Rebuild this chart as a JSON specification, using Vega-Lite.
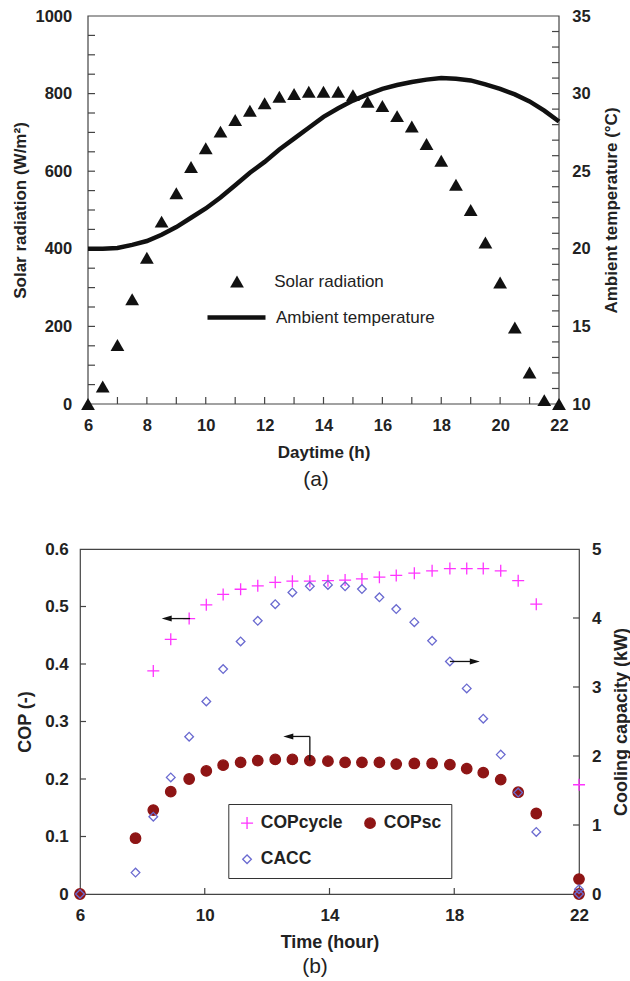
{
  "$schema": "https://vega.github.io/schema/vega-lite/v6.json",
  "padding": {"left": 11, "top": 8, "right": 5, "bottom": 5},
  "spacing": 49,
  "config": {
    "font": "Liberation Sans",
    "view": {"stroke": null},
    "axis": {
      "grid": false,
      "domain": false,
      "ticks": false,
      "tickSize": 0,
      "labelColor": "#222",
      "titleColor": "#222",
      "labelFontWeight": "bold",
      "titleFontWeight": "bold",
      "labelFlush": false,
      "labelOverlap": false
    }
  },
  "datasets": {
    "frameA": [
      {"t": 6, "t2": 22, "rad": 0, "rad2": 1000}
    ],
    "ticksAx": [
      {"t": 7, "rad": 0}, {"t": 8, "rad": 0}, {"t": 9, "rad": 0}, {"t": 10, "rad": 0}, {"t": 11, "rad": 0},
      {"t": 12, "rad": 0}, {"t": 13, "rad": 0}, {"t": 14, "rad": 0}, {"t": 15, "rad": 0}, {"t": 16, "rad": 0},
      {"t": 17, "rad": 0}, {"t": 18, "rad": 0}, {"t": 19, "rad": 0}, {"t": 20, "rad": 0}, {"t": 21, "rad": 0}
    ],
    "ticksAy": [
      {"t": 6, "rad": 50}, {"t": 6, "rad": 100}, {"t": 6, "rad": 150}, {"t": 6, "rad": 200}, {"t": 6, "rad": 250},
      {"t": 6, "rad": 300}, {"t": 6, "rad": 350}, {"t": 6, "rad": 400}, {"t": 6, "rad": 450}, {"t": 6, "rad": 500},
      {"t": 6, "rad": 550}, {"t": 6, "rad": 600}, {"t": 6, "rad": 650}, {"t": 6, "rad": 700}, {"t": 6, "rad": 750},
      {"t": 6, "rad": 800}, {"t": 6, "rad": 850}, {"t": 6, "rad": 900}, {"t": 6, "rad": 950}
    ],
    "ticksAr": [
      {"t": 22, "temp": 11}, {"t": 22, "temp": 12}, {"t": 22, "temp": 13}, {"t": 22, "temp": 14}, {"t": 22, "temp": 15},
      {"t": 22, "temp": 16}, {"t": 22, "temp": 17}, {"t": 22, "temp": 18}, {"t": 22, "temp": 19}, {"t": 22, "temp": 20},
      {"t": 22, "temp": 21}, {"t": 22, "temp": 22}, {"t": 22, "temp": 23}, {"t": 22, "temp": 24}, {"t": 22, "temp": 25},
      {"t": 22, "temp": 26}, {"t": 22, "temp": 27}, {"t": 22, "temp": 28}, {"t": 22, "temp": 29}, {"t": 22, "temp": 30},
      {"t": 22, "temp": 31}, {"t": 22, "temp": 32}, {"t": 22, "temp": 33}, {"t": 22, "temp": 34}
    ],
    "ticksBx": [
      {"t": 10, "cop": 0}, {"t": 14, "cop": 0}, {"t": 18, "cop": 0}
    ],
    "ticksBy": [
      {"t": 6, "cop": 0.1}, {"t": 6, "cop": 0.2}, {"t": 6, "cop": 0.3}, {"t": 6, "cop": 0.4}, {"t": 6, "cop": 0.5}
    ],
    "ticksBr": [
      {"t": 22, "cacc": 1}, {"t": 22, "cacc": 2}, {"t": 22, "cacc": 3}, {"t": 22, "cacc": 4}
    ],
    "rad": [
      {"t": 6, "rad": 0, "s": "Solar radiation"},
      {"t": 6.5, "rad": 45, "s": "Solar radiation"},
      {"t": 7, "rad": 152, "s": "Solar radiation"},
      {"t": 7.5, "rad": 270, "s": "Solar radiation"},
      {"t": 8, "rad": 377, "s": "Solar radiation"},
      {"t": 8.5, "rad": 470, "s": "Solar radiation"},
      {"t": 9, "rad": 543, "s": "Solar radiation"},
      {"t": 9.5, "rad": 611, "s": "Solar radiation"},
      {"t": 10, "rad": 659, "s": "Solar radiation"},
      {"t": 10.5, "rad": 702, "s": "Solar radiation"},
      {"t": 11, "rad": 732, "s": "Solar radiation"},
      {"t": 11.5, "rad": 756, "s": "Solar radiation"},
      {"t": 12, "rad": 775, "s": "Solar radiation"},
      {"t": 12.5, "rad": 792, "s": "Solar radiation"},
      {"t": 13, "rad": 799, "s": "Solar radiation"},
      {"t": 13.5, "rad": 805, "s": "Solar radiation"},
      {"t": 14, "rad": 805, "s": "Solar radiation"},
      {"t": 14.5, "rad": 805, "s": "Solar radiation"},
      {"t": 15, "rad": 796, "s": "Solar radiation"},
      {"t": 15.5, "rad": 779, "s": "Solar radiation"},
      {"t": 16, "rad": 768, "s": "Solar radiation"},
      {"t": 16.5, "rad": 742, "s": "Solar radiation"},
      {"t": 17, "rad": 715, "s": "Solar radiation"},
      {"t": 17.5, "rad": 670, "s": "Solar radiation"},
      {"t": 18, "rad": 627, "s": "Solar radiation"},
      {"t": 18.5, "rad": 565, "s": "Solar radiation"},
      {"t": 19, "rad": 500, "s": "Solar radiation"},
      {"t": 19.5, "rad": 416, "s": "Solar radiation"},
      {"t": 20, "rad": 313, "s": "Solar radiation"},
      {"t": 20.5, "rad": 197, "s": "Solar radiation"},
      {"t": 21, "rad": 81, "s": "Solar radiation"},
      {"t": 21.5, "rad": 10, "s": "Solar radiation"},
      {"t": 22, "rad": 0, "s": "Solar radiation"}
    ],
    "temp": [
      {"t": 6, "temp": 20.0, "s2": "Ambient temperature"},
      {"t": 6.5, "temp": 20.0, "s2": "Ambient temperature"},
      {"t": 7, "temp": 20.05, "s2": "Ambient temperature"},
      {"t": 7.5, "temp": 20.25, "s2": "Ambient temperature"},
      {"t": 8, "temp": 20.5, "s2": "Ambient temperature"},
      {"t": 8.5, "temp": 20.9, "s2": "Ambient temperature"},
      {"t": 9, "temp": 21.4, "s2": "Ambient temperature"},
      {"t": 9.5, "temp": 22.0, "s2": "Ambient temperature"},
      {"t": 10, "temp": 22.6, "s2": "Ambient temperature"},
      {"t": 10.5, "temp": 23.3, "s2": "Ambient temperature"},
      {"t": 11, "temp": 24.1, "s2": "Ambient temperature"},
      {"t": 11.5, "temp": 24.9, "s2": "Ambient temperature"},
      {"t": 12, "temp": 25.6, "s2": "Ambient temperature"},
      {"t": 12.5, "temp": 26.4, "s2": "Ambient temperature"},
      {"t": 13, "temp": 27.1, "s2": "Ambient temperature"},
      {"t": 13.5, "temp": 27.8, "s2": "Ambient temperature"},
      {"t": 14, "temp": 28.5, "s2": "Ambient temperature"},
      {"t": 14.5, "temp": 29.05, "s2": "Ambient temperature"},
      {"t": 15, "temp": 29.55, "s2": "Ambient temperature"},
      {"t": 15.5, "temp": 29.95, "s2": "Ambient temperature"},
      {"t": 16, "temp": 30.3, "s2": "Ambient temperature"},
      {"t": 16.5, "temp": 30.55, "s2": "Ambient temperature"},
      {"t": 17, "temp": 30.75, "s2": "Ambient temperature"},
      {"t": 17.5, "temp": 30.9, "s2": "Ambient temperature"},
      {"t": 18, "temp": 31.0, "s2": "Ambient temperature"},
      {"t": 18.5, "temp": 30.95, "s2": "Ambient temperature"},
      {"t": 19, "temp": 30.85, "s2": "Ambient temperature"},
      {"t": 19.5, "temp": 30.6, "s2": "Ambient temperature"},
      {"t": 20, "temp": 30.3, "s2": "Ambient temperature"},
      {"t": 20.5, "temp": 29.95, "s2": "Ambient temperature"},
      {"t": 21, "temp": 29.5, "s2": "Ambient temperature"},
      {"t": 21.5, "temp": 28.9, "s2": "Ambient temperature"},
      {"t": 22, "temp": 28.2, "s2": "Ambient temperature"}
    ],
    "cop": [
      {"t": 8.35, "cop": 0.388, "series": "COPcycle"},
      {"t": 8.91, "cop": 0.443, "series": "COPcycle"},
      {"t": 9.5, "cop": 0.479, "series": "COPcycle"},
      {"t": 10.05, "cop": 0.503, "series": "COPcycle"},
      {"t": 10.59, "cop": 0.521, "series": "COPcycle"},
      {"t": 11.15, "cop": 0.530, "series": "COPcycle"},
      {"t": 11.7, "cop": 0.536, "series": "COPcycle"},
      {"t": 12.26, "cop": 0.542, "series": "COPcycle"},
      {"t": 12.81, "cop": 0.544, "series": "COPcycle"},
      {"t": 13.37, "cop": 0.544, "series": "COPcycle"},
      {"t": 13.95, "cop": 0.545, "series": "COPcycle"},
      {"t": 14.5, "cop": 0.546, "series": "COPcycle"},
      {"t": 15.04, "cop": 0.548, "series": "COPcycle"},
      {"t": 15.6, "cop": 0.551, "series": "COPcycle"},
      {"t": 16.14, "cop": 0.554, "series": "COPcycle"},
      {"t": 16.72, "cop": 0.558, "series": "COPcycle"},
      {"t": 17.29, "cop": 0.562, "series": "COPcycle"},
      {"t": 17.86, "cop": 0.566, "series": "COPcycle"},
      {"t": 18.4, "cop": 0.566, "series": "COPcycle"},
      {"t": 18.93, "cop": 0.566, "series": "COPcycle"},
      {"t": 19.49, "cop": 0.562, "series": "COPcycle"},
      {"t": 20.05, "cop": 0.545, "series": "COPcycle"},
      {"t": 20.63, "cop": 0.504, "series": "COPcycle"},
      {"t": 22, "cop": 0.19, "series": "COPcycle"},
      {"t": 6, "cop": 0, "series": "COPsc"},
      {"t": 7.78, "cop": 0.097, "series": "COPsc"},
      {"t": 8.35, "cop": 0.146, "series": "COPsc"},
      {"t": 8.91, "cop": 0.178, "series": "COPsc"},
      {"t": 9.5, "cop": 0.200, "series": "COPsc"},
      {"t": 10.05, "cop": 0.214, "series": "COPsc"},
      {"t": 10.59, "cop": 0.224, "series": "COPsc"},
      {"t": 11.15, "cop": 0.229, "series": "COPsc"},
      {"t": 11.7, "cop": 0.232, "series": "COPsc"},
      {"t": 12.26, "cop": 0.234, "series": "COPsc"},
      {"t": 12.81, "cop": 0.234, "series": "COPsc"},
      {"t": 13.37, "cop": 0.232, "series": "COPsc"},
      {"t": 13.95, "cop": 0.231, "series": "COPsc"},
      {"t": 14.5, "cop": 0.229, "series": "COPsc"},
      {"t": 15.04, "cop": 0.229, "series": "COPsc"},
      {"t": 15.6, "cop": 0.229, "series": "COPsc"},
      {"t": 16.14, "cop": 0.226, "series": "COPsc"},
      {"t": 16.72, "cop": 0.227, "series": "COPsc"},
      {"t": 17.29, "cop": 0.227, "series": "COPsc"},
      {"t": 17.86, "cop": 0.225, "series": "COPsc"},
      {"t": 18.4, "cop": 0.218, "series": "COPsc"},
      {"t": 18.93, "cop": 0.211, "series": "COPsc"},
      {"t": 19.49, "cop": 0.199, "series": "COPsc"},
      {"t": 20.05, "cop": 0.177, "series": "COPsc"},
      {"t": 20.63, "cop": 0.140, "series": "COPsc"},
      {"t": 22, "cop": 0.026, "series": "COPsc"},
      {"t": 22, "cop": 0, "series": "COPsc"}
    ],
    "cacc": [
      {"t": 6, "cacc": 0, "series": "CACC"},
      {"t": 7.78, "cacc": 0.31, "series": "CACC"},
      {"t": 8.35, "cacc": 1.12, "series": "CACC"},
      {"t": 8.91, "cacc": 1.69, "series": "CACC"},
      {"t": 9.5, "cacc": 2.28, "series": "CACC"},
      {"t": 10.05, "cacc": 2.79, "series": "CACC"},
      {"t": 10.59, "cacc": 3.26, "series": "CACC"},
      {"t": 11.15, "cacc": 3.66, "series": "CACC"},
      {"t": 11.7, "cacc": 3.96, "series": "CACC"},
      {"t": 12.26, "cacc": 4.20, "series": "CACC"},
      {"t": 12.81, "cacc": 4.37, "series": "CACC"},
      {"t": 13.37, "cacc": 4.46, "series": "CACC"},
      {"t": 13.95, "cacc": 4.48, "series": "CACC"},
      {"t": 14.5, "cacc": 4.46, "series": "CACC"},
      {"t": 15.04, "cacc": 4.42, "series": "CACC"},
      {"t": 15.6, "cacc": 4.30, "series": "CACC"},
      {"t": 16.14, "cacc": 4.13, "series": "CACC"},
      {"t": 16.72, "cacc": 3.94, "series": "CACC"},
      {"t": 17.29, "cacc": 3.67, "series": "CACC"},
      {"t": 17.86, "cacc": 3.37, "series": "CACC"},
      {"t": 18.4, "cacc": 2.98, "series": "CACC"},
      {"t": 18.93, "cacc": 2.54, "series": "CACC"},
      {"t": 19.49, "cacc": 2.02, "series": "CACC"},
      {"t": 20.05, "cacc": 1.47, "series": "CACC"},
      {"t": 20.63, "cacc": 0.90, "series": "CACC"},
      {"t": 22, "cacc": 0.07, "series": "CACC"},
      {"t": 22, "cacc": 0, "series": "CACC"}
    ],
    "arrowsCop": [
      {"t": 9.53, "t2": 8.78, "cop": 0.479, "cop2": 0.479},
      {"t": 13.37, "t2": 13.37, "cop": 0.232, "cop2": 0.274},
      {"t": 13.37, "t2": 12.68, "cop": 0.274, "cop2": 0.274}
    ],
    "headsCop": [
      {"t": 8.78, "cop": 0.479},
      {"t": 12.68, "cop": 0.274}
    ],
    "arrowsCacc": [
      {"t": 17.86, "t2": 18.66, "cacc": 3.37, "cacc2": 3.37}
    ],
    "headsCacc": [
      {"t": 18.66, "cacc": 3.37}
    ]
  },
  "vconcat": [
    {
      "width": 479,
      "height": 388,
      "view": {"stroke": null},
      "title": {"text": "(a)", "orient": "bottom", "anchor": "middle", "frame": "group", "dx": -3.5, "offset": 9, "fontSize": 21, "fontWeight": "normal", "color": "#222", "font": "Liberation Sans"},
      "layer": [
        {
          "layer": [
            {
              "data": {"name": "frameA"},
              "mark": {"type": "rect", "fill": null, "stroke": "#444", "strokeWidth": 1.2},
              "encoding": {
                "x": {"field": "t", "type": "quantitative", "title": "Daytime (h)"},
                "x2": {"field": "t2"},
                "y": {"field": "rad", "type": "quantitative", "title": "Solar radiation (W/m²)"},
                "y2": {"field": "rad2"}
              }
            },
            {
              "data": {"name": "ticksAx"},
              "mark": {"type": "tick", "orient": "vertical", "size": 7, "thickness": 1.2, "color": "#444", "opacity": 1, "yOffset": -3.5},
              "encoding": {
                "x": {"field": "t", "type": "quantitative", "title": "Daytime (h)"},
                "y": {"field": "rad", "type": "quantitative", "title": "Solar radiation (W/m²)"}
              }
            },
            {
              "data": {"name": "ticksAy"},
              "mark": {"type": "tick", "orient": "horizontal", "size": 7, "thickness": 1.2, "color": "#444", "opacity": 1, "xOffset": 3.5},
              "encoding": {
                "x": {"field": "t", "type": "quantitative", "title": "Daytime (h)"},
                "y": {"field": "rad", "type": "quantitative", "title": "Solar radiation (W/m²)"}
              }
            },
            {
              "data": {"name": "rad"},
              "mark": {"type": "point", "filled": true, "color": "#111", "size": 190, "opacity": 1},
              "encoding": {
                "x": {
                  "field": "t", "type": "quantitative", "title": "Daytime (h)",
                  "scale": {"domain": [6, 22], "range": [8, 479], "nice": false, "zero": false},
                  "axis": {
                    "orient": "bottom",
                    "values": [6, 8, 10, 12, 14, 16, 18, 20, 22],
                    "labelPadding": 13.4,
                    "labelFontSize": 16.5,
                    "titleFontSize": 17,
                    "titleX": 243.5, "titleY": 48, "titleAlign": "center", "titleBaseline": "middle"
                  }
                },
                "y": {
                  "field": "rad", "type": "quantitative", "title": "Solar radiation (W/m²)",
                  "scale": {"domain": [0, 1000], "nice": false},
                  "axis": {
                    "orient": "left", "offset": -8, "format": "d",
                    "values": [0, 200, 400, 600, 800, 1000],
                    "labelPadding": 16.3,
                    "labelFontSize": 16.5,
                    "titleFontSize": 17,
                    "titleAngle": -90, "titleX": -68, "titleY": 194, "titleAlign": "center", "titleBaseline": "middle"
                  }
                },
                "shape": {
                  "field": "s", "type": "nominal",
                  "scale": {"range": ["triangle-up"]},
                  "legend": {
                    "orient": "none", "legendX": 148.5, "legendY": 257, "title": null, "padding": 0,
                    "symbolSize": 190, "symbolFillColor": "#111", "symbolStrokeColor": "#111", "symbolStrokeWidth": 0,
                    "labelOffset": 28.7, "labelFontSize": 17, "labelFont": "Liberation Sans", "labelColor": "#222"
                  }
                }
              }
            }
          ]
        },
        {
          "layer": [
            {
              "data": {"name": "ticksAr"},
              "mark": {"type": "tick", "orient": "horizontal", "size": 7, "thickness": 1.2, "color": "#444", "opacity": 1, "xOffset": -3.5},
              "encoding": {
                "x": {"field": "t", "type": "quantitative", "title": "Daytime (h)"},
                "y": {"field": "temp", "type": "quantitative", "title": "Ambient temperature (°C)"}
              }
            },
            {
              "data": {"name": "temp"},
              "mark": {"type": "line", "strokeWidth": 4.5, "strokeCap": "butt", "color": "#111"},
              "encoding": {
                "x": {
                  "field": "t", "type": "quantitative", "title": "Daytime (h)",
                  "scale": {"domain": [6, 22], "range": [8, 479], "nice": false, "zero": false}
                },
                "y": {
                  "field": "temp", "type": "quantitative", "title": "Ambient temperature (°C)",
                  "scale": {"domain": [10, 35], "nice": false, "zero": false},
                  "axis": {
                    "orient": "right", "format": "d",
                    "values": [10, 15, 20, 25, 30, 35],
                    "labelPadding": 12.7,
                    "labelFontSize": 16.5,
                    "titleFontSize": 17,
                    "titleAngle": -90, "titleX": 52.7, "titleY": 194, "titleAlign": "center", "titleBaseline": "middle"
                  }
                },
                "stroke": {
                  "field": "s2", "type": "nominal",
                  "scale": {"range": ["#111"]},
                  "legend": {
                    "orient": "none", "legendX": 125, "legendY": 270, "title": null, "padding": 0,
                    "symbolSize": 3364, "symbolStrokeWidth": 4.5,
                    "labelOffset": 8, "labelFontSize": 17, "labelFont": "Liberation Sans", "labelColor": "#222"
                  }
                }
              }
            }
          ]
        }
      ],
      "resolve": {"scale": {"y": "independent"}}
    },
    {
      "width": 499,
      "height": 345,
      "view": {"stroke": "#444", "strokeWidth": 1.2},
      "title": {"text": "(b)", "orient": "bottom", "anchor": "middle", "frame": "group", "dx": -14.5, "offset": 5, "fontSize": 21, "fontWeight": "normal", "color": "#222", "font": "Liberation Sans"},
      "layer": [
        {
          "layer": [
            {
              "data": {"name": "ticksBx"},
              "mark": {"type": "tick", "orient": "vertical", "size": 6, "thickness": 1.2, "color": "#444", "opacity": 1, "yOffset": -3},
              "encoding": {
                "x": {"field": "t", "type": "quantitative", "title": "Time (hour)"},
                "y": {"field": "cop", "type": "quantitative", "title": "COP (-)"}
              }
            },
            {
              "data": {"name": "ticksBy"},
              "mark": {"type": "tick", "orient": "horizontal", "size": 6, "thickness": 1.2, "color": "#444", "opacity": 1, "xOffset": 3},
              "encoding": {
                "x": {"field": "t", "type": "quantitative", "title": "Time (hour)"},
                "y": {"field": "cop", "type": "quantitative", "title": "COP (-)"}
              }
            },
            {
              "data": {"name": "cop"},
              "mark": {"type": "point", "strokeWidth": 1.3, "opacity": 1},
              "encoding": {
                "x": {
                  "field": "t", "type": "quantitative", "title": "Time (hour)",
                  "scale": {"domain": [6, 22], "nice": false, "zero": false},
                  "axis": {
                    "values": [6, 10, 14, 18, 22],
                    "labelPadding": 13.4,
                    "labelFontSize": 17,
                    "titleFontSize": 18,
                    "titleX": 249.5, "titleY": 48.4, "titleAlign": "center", "titleBaseline": "middle"
                  }
                },
                "y": {
                  "field": "cop", "type": "quantitative", "title": "COP (-)",
                  "scale": {"domain": [0, 0.6], "nice": false},
                  "axis": {
                    "orient": "left",
                    "values": [0, 0.1, 0.2, 0.3, 0.4, 0.5, 0.6],
                    "labelExpr": "datum.value === 0 ? '0' : format(datum.value, '.1f')",
                    "labelPadding": 11.7,
                    "labelFontSize": 17,
                    "titleFontSize": 18,
                    "titleAngle": -90, "titleX": -55, "titleY": 172.5, "titleAlign": "center", "titleBaseline": "middle"
                  }
                },
                "shape": {"field": "series", "type": "nominal", "scale": {"domain": ["COPcycle", "COPsc", "CACC"], "range": ["M-1,0L1,0M0,-1L0,1", "circle", "diamond"]},
                  "legend": {"orient": "none", "direction": "horizontal", "legendX": 148.3, "legendY": 255, "columns": 2, "title": null, "padding": 10, "strokeColor": "#333", "rowPadding": 17.5, "columnPadding": 18, "labelOffset": 5, "labelFontSize": 17.5, "labelFontWeight": "bold", "labelColor": "#222", "symbolStrokeWidth": 1.3, "labelExpr": "datum.label === 'COPsc' ? datum.label + '\u00a0\u00a0\u00a0\u00a0\u00a0' : datum.label"}},
                "fill": {"field": "series", "type": "nominal", "scale": {"domain": ["COPcycle", "COPsc", "CACC"], "range": ["transparent", "#8E1515", "transparent"]},
                  "legend": {"orient": "none", "direction": "horizontal", "legendX": 148.3, "legendY": 255, "columns": 2, "title": null, "padding": 10, "strokeColor": "#333", "rowPadding": 17.5, "columnPadding": 18, "labelOffset": 5, "labelFontSize": 17.5, "labelFontWeight": "bold", "labelColor": "#222", "symbolStrokeWidth": 1.3, "labelExpr": "datum.label === 'COPsc' ? datum.label + '\u00a0\u00a0\u00a0\u00a0\u00a0' : datum.label"}},
                "stroke": {"field": "series", "type": "nominal", "scale": {"domain": ["COPcycle", "COPsc", "CACC"], "range": ["#FF33FF", "#8E1515", "#6A6AD0"]},
                  "legend": {"orient": "none", "direction": "horizontal", "legendX": 148.3, "legendY": 255, "columns": 2, "title": null, "padding": 10, "strokeColor": "#333", "rowPadding": 17.5, "columnPadding": 18, "labelOffset": 5, "labelFontSize": 17.5, "labelFontWeight": "bold", "labelColor": "#222", "symbolStrokeWidth": 1.3, "labelExpr": "datum.label === 'COPsc' ? datum.label + '\u00a0\u00a0\u00a0\u00a0\u00a0' : datum.label"}},
                "size": {"field": "series", "type": "nominal", "scale": {"domain": ["COPcycle", "COPsc", "CACC"], "range": [144, 75, 110]},
                  "legend": {"orient": "none", "direction": "horizontal", "legendX": 148.3, "legendY": 255, "columns": 2, "title": null, "padding": 10, "strokeColor": "#333", "rowPadding": 17.5, "columnPadding": 18, "labelOffset": 5, "labelFontSize": 17.5, "labelFontWeight": "bold", "labelColor": "#222", "symbolStrokeWidth": 1.3, "labelExpr": "datum.label === 'COPsc' ? datum.label + '\u00a0\u00a0\u00a0\u00a0\u00a0' : datum.label"}}
              }
            },
            {
              "data": {"name": "arrowsCop"},
              "mark": {"type": "rule", "color": "#111", "strokeWidth": 1.3},
              "encoding": {
                "x": {"field": "t", "type": "quantitative", "title": "Time (hour)"},
                "x2": {"field": "t2"},
                "y": {"field": "cop", "type": "quantitative", "title": "COP (-)"},
                "y2": {"field": "cop2"}
              }
            },
            {
              "data": {"name": "headsCop"},
              "mark": {"type": "point", "filled": true, "color": "#111", "opacity": 1, "size": 100, "shape": "M-1,0L1,-0.6L1,0.6Z"},
              "encoding": {
                "x": {"field": "t", "type": "quantitative", "title": "Time (hour)"},
                "y": {"field": "cop", "type": "quantitative", "title": "COP (-)"}
              }
            }
          ]
        },
        {
          "layer": [
            {
              "data": {"name": "ticksBr"},
              "mark": {"type": "tick", "orient": "horizontal", "size": 6, "thickness": 1.2, "color": "#444", "opacity": 1, "xOffset": -3},
              "encoding": {
                "x": {"field": "t", "type": "quantitative", "title": "Time (hour)"},
                "y": {"field": "cacc", "type": "quantitative", "title": "Cooling capacity (kW)"}
              }
            },
            {
              "data": {"name": "cacc"},
              "mark": {"type": "point", "strokeWidth": 1.3, "opacity": 1},
              "encoding": {
                "x": {"field": "t", "type": "quantitative", "title": "Time (hour)"},
                "y": {
                  "field": "cacc", "type": "quantitative", "title": "Cooling capacity (kW)",
                  "scale": {"domain": [0, 5], "nice": false},
                  "axis": {
                    "orient": "right", "format": "d",
                    "values": [0, 1, 2, 3, 4, 5],
                    "labelPadding": 12.4,
                    "labelFontSize": 17,
                    "titleFontSize": 18,
                    "titleAngle": -90, "titleX": 42.4, "titleY": 172.5, "titleAlign": "center", "titleBaseline": "middle"
                  }
                },
                "shape": {"field": "series", "type": "nominal", "scale": {"domain": ["COPcycle", "COPsc", "CACC"], "range": ["M-1,0L1,0M0,-1L0,1", "circle", "diamond"]},
                  "legend": {"orient": "none", "direction": "horizontal", "legendX": 148.3, "legendY": 255, "columns": 2, "title": null, "padding": 10, "strokeColor": "#333", "rowPadding": 17.5, "columnPadding": 18, "labelOffset": 5, "labelFontSize": 17.5, "labelFontWeight": "bold", "labelColor": "#222", "symbolStrokeWidth": 1.3, "labelExpr": "datum.label === 'COPsc' ? datum.label + '\u00a0\u00a0\u00a0\u00a0\u00a0' : datum.label"}},
                "fill": {"field": "series", "type": "nominal", "scale": {"domain": ["COPcycle", "COPsc", "CACC"], "range": ["transparent", "#8E1515", "transparent"]},
                  "legend": {"orient": "none", "direction": "horizontal", "legendX": 148.3, "legendY": 255, "columns": 2, "title": null, "padding": 10, "strokeColor": "#333", "rowPadding": 17.5, "columnPadding": 18, "labelOffset": 5, "labelFontSize": 17.5, "labelFontWeight": "bold", "labelColor": "#222", "symbolStrokeWidth": 1.3, "labelExpr": "datum.label === 'COPsc' ? datum.label + '\u00a0\u00a0\u00a0\u00a0\u00a0' : datum.label"}},
                "stroke": {"field": "series", "type": "nominal", "scale": {"domain": ["COPcycle", "COPsc", "CACC"], "range": ["#FF33FF", "#8E1515", "#6A6AD0"]},
                  "legend": {"orient": "none", "direction": "horizontal", "legendX": 148.3, "legendY": 255, "columns": 2, "title": null, "padding": 10, "strokeColor": "#333", "rowPadding": 17.5, "columnPadding": 18, "labelOffset": 5, "labelFontSize": 17.5, "labelFontWeight": "bold", "labelColor": "#222", "symbolStrokeWidth": 1.3, "labelExpr": "datum.label === 'COPsc' ? datum.label + '\u00a0\u00a0\u00a0\u00a0\u00a0' : datum.label"}},
                "size": {"field": "series", "type": "nominal", "scale": {"domain": ["COPcycle", "COPsc", "CACC"], "range": [144, 75, 110]},
                  "legend": {"orient": "none", "direction": "horizontal", "legendX": 148.3, "legendY": 255, "columns": 2, "title": null, "padding": 10, "strokeColor": "#333", "rowPadding": 17.5, "columnPadding": 18, "labelOffset": 5, "labelFontSize": 17.5, "labelFontWeight": "bold", "labelColor": "#222", "symbolStrokeWidth": 1.3, "labelExpr": "datum.label === 'COPsc' ? datum.label + '\u00a0\u00a0\u00a0\u00a0\u00a0' : datum.label"}}
              }
            },
            {
              "data": {"name": "arrowsCacc"},
              "mark": {"type": "rule", "color": "#111", "strokeWidth": 1.3},
              "encoding": {
                "x": {"field": "t", "type": "quantitative", "title": "Time (hour)"},
                "x2": {"field": "t2"},
                "y": {"field": "cacc", "type": "quantitative", "title": "Cooling capacity (kW)"},
                "y2": {"field": "cacc2"}
              }
            },
            {
              "data": {"name": "headsCacc"},
              "mark": {"type": "point", "filled": true, "color": "#111", "opacity": 1, "size": 100, "shape": "M1,0L-1,-0.6L-1,0.6Z"},
              "encoding": {
                "x": {"field": "t", "type": "quantitative", "title": "Time (hour)"},
                "y": {"field": "cacc", "type": "quantitative", "title": "Cooling capacity (kW)"}
              }
            }
          ]
        }
      ],
      "resolve": {"scale": {"y": "independent"}}
    }
  ],
  "resolve": {
    "scale": {"x": "independent", "y": "independent", "shape": "independent", "stroke": "independent", "fill": "independent", "size": "independent"},
    "legend": {"shape": "independent", "stroke": "independent", "fill": "independent", "size": "independent"}
  }
}
